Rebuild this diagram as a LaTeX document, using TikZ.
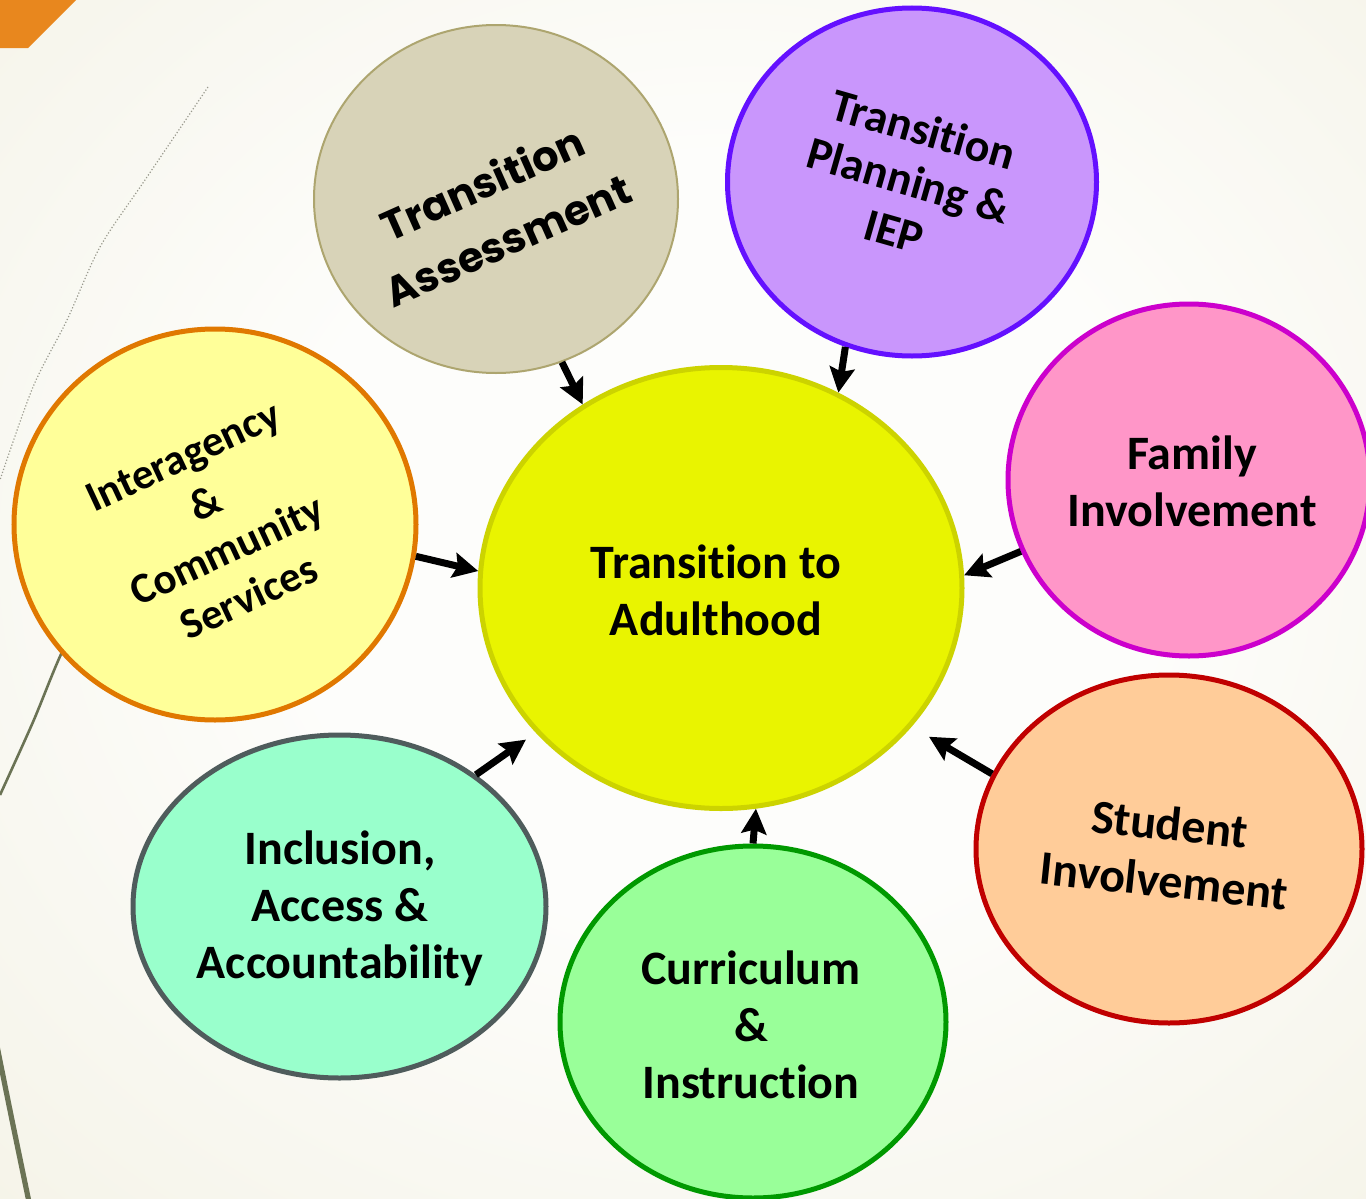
\documentclass[tikz,border=0pt]{standalone}
\usepackage{fontspec}
\setmainfont{Carlito}[Ligatures=NoCommon]
\newfontfamily\gothic{Poppins}[Ligatures=NoCommon]
\usetikzlibrary{arrows.meta,shapes.geometric}
\definecolor{bgin}{HTML}{FDFDFB}
\definecolor{bgout}{HTML}{E9E5CC}
\definecolor{cornerc}{HTML}{E8871E}
\definecolor{olive}{HTML}{6B7355}
\definecolor{faint}{HTML}{9A9A8E}
\definecolor{cfill}{HTML}{E9F400}
\definecolor{cdraw}{HTML}{CCD300}
\definecolor{tafill}{HTML}{D8D3B8}
\definecolor{tadraw}{HTML}{ADA56F}
\definecolor{tpfill}{HTML}{C996FC}
\definecolor{tpdraw}{HTML}{6410FF}
\definecolor{fafill}{HTML}{FF96C8}
\definecolor{fadraw}{HTML}{CC00CC}
\definecolor{stfill}{HTML}{FFCC99}
\definecolor{stdraw}{HTML}{C00000}
\definecolor{cufill}{HTML}{99FF99}
\definecolor{cudraw}{HTML}{009900}
\definecolor{infill}{HTML}{99FFCC}
\definecolor{indraw}{HTML}{4F5C5C}
\definecolor{iafill}{HTML}{FFFF99}
\definecolor{iadraw}{HTML}{E07800}
\pgfdeclareradialshading{bgshade}{\pgfpoint{2bp}{3bp}}{color(0bp)=(bgin); color(16bp)=(bgin); color(71bp)=(bgout)}
\begin{document}
\begin{tikzpicture}[x=0.5pt,y=-0.5pt,
  bub/.style={ellipse, draw, line width=2.5pt, inner sep=0pt},
  lbl/.style={align=center, font=\bfseries\fontsize{24}{28.5}\selectfont, inner sep=0pt},
  arr/.style={line width=3.5pt, -{Stealth[length=12.5pt,width=12.5pt,inset=2pt]}}
]
\useasboundingbox (0,0) rectangle (1366,1199);
\clip (0,0) rectangle (1366,1199);
\shade[shading=bgshade] (0,0) rectangle (1366,1199);
\fill[cornerc] (0,0) -- (76,0) -- (28,48) -- (0,48) -- cycle;
\draw[faint, line width=0.6pt, densely dotted] plot[smooth] coordinates {(208,87) (145,180) (100,247) (67,320) (33,387) (0,480)};
\draw[olive, line width=1.3pt] plot[smooth] coordinates {(95,595) (63,650) (33,722) (0,795)};
\draw[olive, line width=2.6pt] plot[smooth] coordinates {(-3,1046) (12,1120) (29,1202)};
% bubbles
\node[bub, fill=cfill, draw=cdraw, minimum width=241pt, minimum height=220.5pt] (c) at (721,588) {};
\node[bub, fill=tafill, draw=tadraw, line width=1pt, minimum width=182pt, minimum height=174pt] (ta) at (496,199) {};
\node[bub, fill=tpfill, draw=tpdraw, minimum width=184.5pt, minimum height=174pt] (tp) at (912,182) {};
\node[bub, fill=fafill, draw=fadraw, minimum width=181pt, minimum height=176pt] (fa) at (1189,480) {};
\node[bub, fill=stfill, draw=stdraw, minimum width=193pt, minimum height=174pt] (st) at (1169,849) {};
\node[bub, fill=cufill, draw=cudraw, minimum width=193pt, minimum height=176pt] (cu) at (753,1022) {};
\node[bub, fill=infill, draw=indraw, minimum width=206.5pt, minimum height=171.5pt] (in) at (339.5,906.5) {};
\node[bub, fill=iafill, draw=iadraw, minimum width=201pt, minimum height=195.5pt] (ia) at (215,524.5) {};
% labels
\node[lbl] (ct) at (716,590) {Transition to\\Adulthood};
\node[lbl, font=\gothic\bfseries\fontsize{20.8}{31}\selectfont, rotate=24] (tat) at (495,211) {Transition\\Assessment};
\node[lbl, font=\bfseries\fontsize{23}{26.5}\selectfont, rotate=-16] (tpt) at (909,180) {Transition\\Planning \&\\IEP};
\node[lbl] (fat) at (1192,481) {Family\\Involvement};
\node[lbl, rotate=-6] (stt) at (1167,852) {Student\\Involvement};
\node[lbl] (cut) at (751,1025) {Curriculum\\\&\\Instruction};
\node[lbl] (int) at (340,908) {Inclusion,\\Access \&\\Accountability};
\node[lbl, font=\bfseries\fontsize{21.5}{26}\selectfont, rotate=25] (iat) at (216,527) {Interagency\\\&\\Community\\Services};
% arrows
\draw[arr] (ta.-68) -- (c.127);
\draw[arr] (tp.-112) -- (c.59.5);
\draw[arr] (ia.-9) -- (c.176);
\draw[arr] (fa.-157) -- (c.3);
\draw[arr, shorten >=10pt] (st.157.5) -- (c.-36.7);
\draw[arr, shorten >=6pt] (in.44) -- (c.-142);
\draw[arr] (cu.90) -- (c.-81.5);
\end{tikzpicture}
\end{document}
